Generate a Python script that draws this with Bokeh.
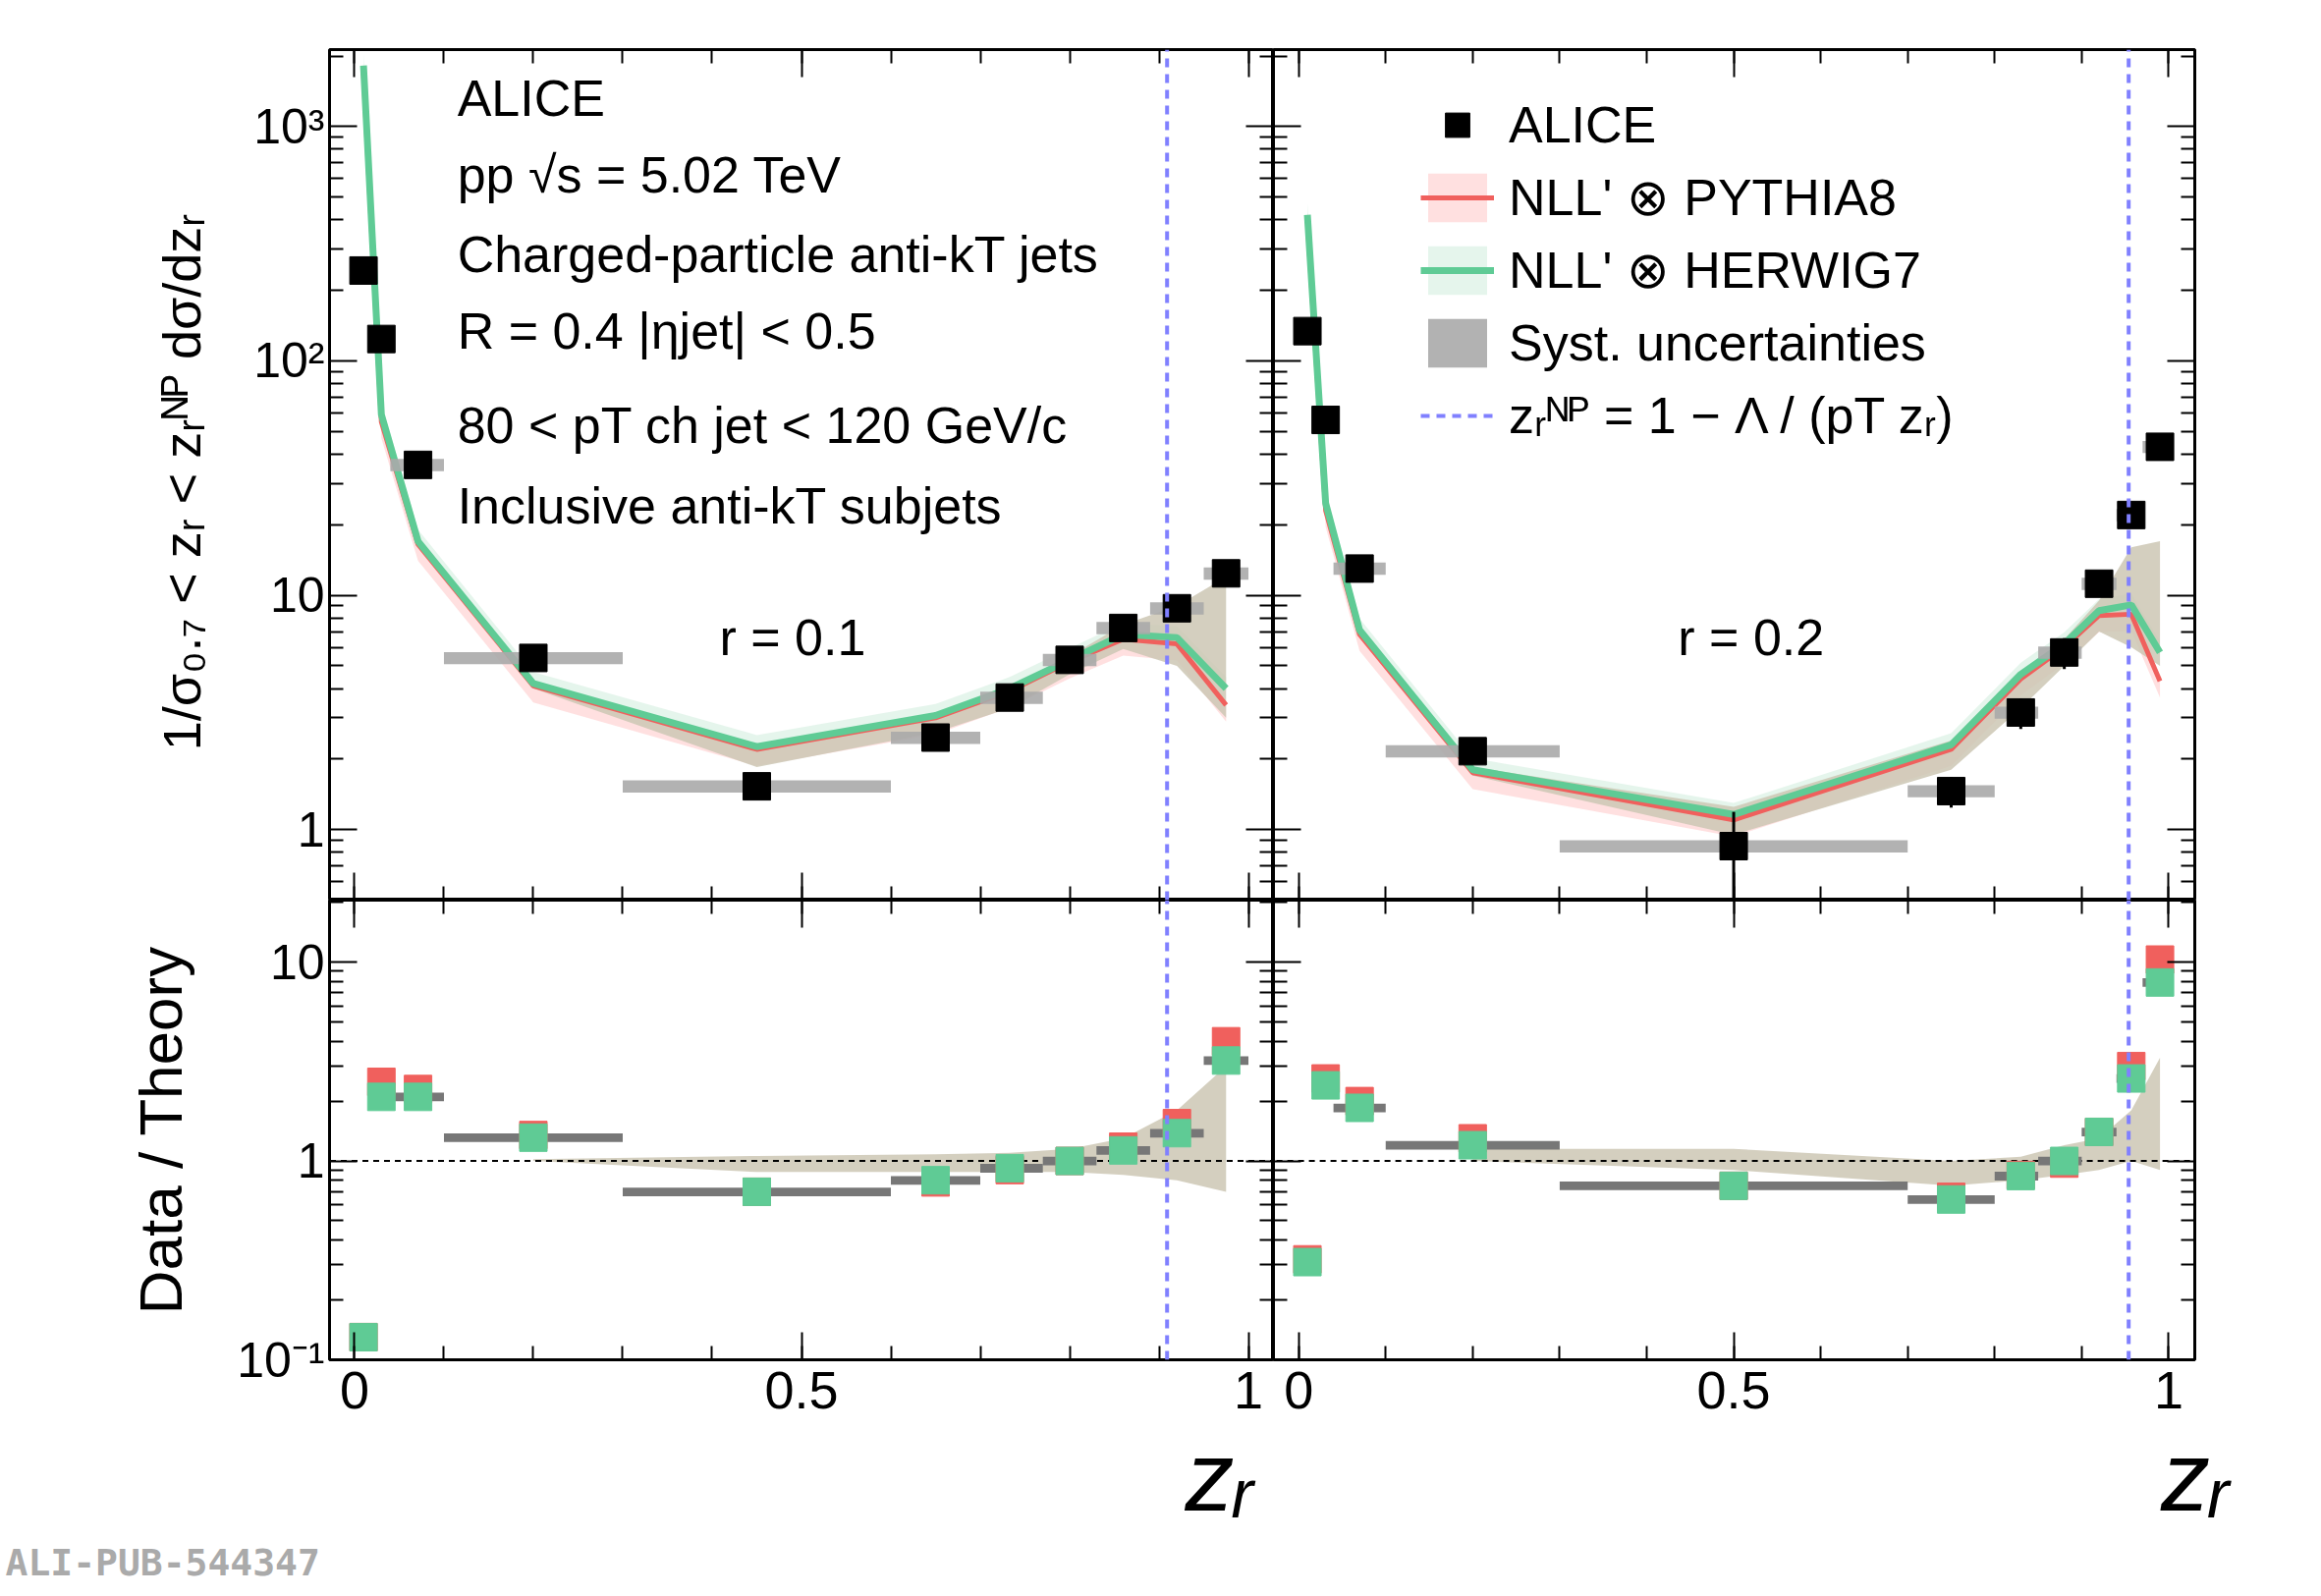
import numpy as np
from bokeh.plotting import figure
from bokeh.layouts import gridplot
from bokeh.models import (Range1d, FixedTicker, LinearAxis, LogAxis, Label, Legend,
                          LegendItem, Title)
from bokeh.embed import file_html
from bokeh.resources import INLINE

# ---- data, r = 0.1 (left) ----
l_x = [0.01, 0.03, 0.071, 0.2, 0.45, 0.65, 0.733, 0.8, 0.86, 0.92, 0.975]
l_lo = [0.0, 0.02, 0.04, 0.1, 0.3, 0.6, 0.7, 0.77, 0.83, 0.89, 0.95]
l_hi = [0.02, 0.04, 0.1, 0.3, 0.6, 0.7, 0.77, 0.83, 0.89, 0.95, 1.0]
l_data = [243, 124, 36, 5.4, 1.53, 2.47, 3.66, 5.3, 7.25, 8.8, 12.4]
l_herwig = [1820, 59, 17, 4.2, 2.26, 3.07, 4.0, 5.3, 6.8, 6.6, 4.0]
l_pythia = [1700, 55, 16.5, 4.1, 2.2, 3.0, 3.9, 5.2, 6.5, 6.2, 3.4]
l_band_lo = [1700, 55, 16, 4.0, 1.85, 2.6, 3.3, 4.6, 5.9, 5.0, 3.0]
l_band_hi = [1850, 60, 17.5, 4.3, 2.3, 3.1, 4.1, 5.5, 7.5, 9.0, 12]
l_rat_herwig = [0.13, 2.1, 2.1, 1.31, 0.70, 0.80, 0.92, 1.0, 1.13, 1.38, 3.2]
l_rat_pythia = [0.13, 2.5, 2.3, 1.35, 0.70, 0.78, 0.90, 1.0, 1.18, 1.55, 4.0]
l_rband_x = [0.2, 0.45, 0.65, 0.733, 0.8, 0.86, 0.92, 0.975]
l_rband_lo = [1.0, 0.88, 0.88, 0.88, 0.88, 0.85, 0.8, 0.7]
l_rband_hi = [1.02, 1.06, 1.08, 1.1, 1.15, 1.3, 1.8, 3.0]
l_znp = 0.909

# ---- data, r = 0.2 (right) ----
r_x = [0.01, 0.031, 0.07, 0.2, 0.5, 0.75, 0.83, 0.88, 0.92, 0.957, 0.99]
r_lo = [0.0, 0.02, 0.04, 0.1, 0.3, 0.7, 0.8, 0.85, 0.9, 0.94, 0.97]
r_hi = [0.02, 0.04, 0.1, 0.3, 0.7, 0.8, 0.85, 0.9, 0.94, 0.97, 1.0]
r_data = [134, 56, 13, 2.16, 0.85, 1.46, 3.16, 5.7, 11.2, 22, 43]
r_herwig = [420, 24.7, 7.1, 1.8, 1.16, 2.3, 4.6, 6.2, 8.6, 9.1, 5.7]
r_pythia = [400, 23, 6.8, 1.75, 1.1, 2.2, 4.4, 6.0, 8.2, 8.3, 4.3]
r_band_lo = [400, 23, 6.7, 1.7, 0.95, 1.8, 3.3, 5.0, 7.0, 6.0, 5.0]
r_band_hi = [430, 25, 7.3, 1.85, 1.25, 2.4, 4.7, 6.5, 9.5, 16, 17]
r_rat_herwig = [0.31, 2.4, 1.85, 1.2, 0.75, 0.64, 0.84, 1.0, 1.4, 2.6, 7.9]
r_rat_pythia = [0.32, 2.6, 2.0, 1.3, 0.75, 0.66, 0.85, 0.97, 1.4, 3.0, 10.3]
r_rband_x = [0.2, 0.5, 0.75, 0.83, 0.88, 0.92, 0.957, 0.99]
r_rband_lo = [1.0, 0.9, 0.75, 0.8, 0.85, 0.9, 1.0, 0.9]
r_rband_hi = [1.15, 1.15, 1.0, 1.05, 1.2, 1.3, 1.8, 3.3]
r_znp = 0.954

stat_rel = [0.05, 0.05, 0.05, 0.05, 0.06, 0.1, 0.1, 0.1, 0.1, 0.08, 0.06]
r_stat_rel = [0.05, 0.05, 0.05, 0.05, 0.4, 0.15, 0.15, 0.15, 0.1, 0.07, 0.06]

FONT = "Liberation Sans"
FS = "50px"
RED = "#f0605d"
GREEN = "#5fcb95"
TAN = "#cdc7b4"
BLUE = "#8080ff"
W_LEFT, W_RIGHT, H_TOP, H_BOT = 961, 938, 866, 468

top_ticks = [1, 10, 100, 1000]
top_minor = [m * 10.0 ** e for e in range(-1, 4) for m in range(2, 10)]
bot_ticks = [0.1, 1, 10]
bot_minor = [m * 10.0 ** e for e in range(-1, 2) for m in range(2, 10)]
x_ticks = [0, 0.5, 1]
x_minor = [i / 10 for i in range(11)]

TICKS = dict(major_tick_in=28, major_tick_out=0, minor_tick_in=14, minor_tick_out=0,
             axis_line_color=None, major_tick_line_width=2, minor_tick_line_width=2)


def hide_labels(ax):
    ax.major_label_text_font_size = "1px"
    ax.major_label_text_alpha = 0
    ax.major_label_standoff = 0


def style(p, yticks, yminor, labels, show_y, show_x):
    p.xgrid.visible = False
    p.ygrid.visible = False
    p.outline_line_color = "black"
    p.outline_line_width = 3
    xa, ya = p.xaxis[0], p.yaxis[0]
    xa.ticker = FixedTicker(ticks=x_ticks, minor_ticks=x_minor)
    ya.ticker = FixedTicker(ticks=yticks, minor_ticks=yminor)
    ya.major_label_overrides = labels
    for ax in (xa, ya):
        for k, v in TICKS.items():
            setattr(ax, k, v)
        ax.major_label_text_font = FONT
        ax.major_label_text_font_size = FS
        ax.major_label_text_color = "black"
        ax.axis_label_text_color = "black"
    if not show_y:
        hide_labels(ya)
    if not show_x:
        hide_labels(xa)
    extra_x = LinearAxis(ticker=FixedTicker(ticks=x_ticks, minor_ticks=x_minor), **TICKS)
    hide_labels(extra_x)
    p.add_layout(extra_x, "above")
    extra_y = LogAxis(ticker=FixedTicker(ticks=yticks, minor_ticks=yminor), **TICKS)
    hide_labels(extra_y)
    p.add_layout(extra_y, "right")
    return xa, ya


def top_panel(xr, x, lo, hi, data, statrel, herwig, pythia, blo, bhi, znp, left):
    p = figure(x_range=xr, y_range=Range1d(0.5, 2130), y_axis_type="log",
               frame_width=W_LEFT if left else W_RIGHT, frame_height=H_TOP,
               min_border_left=335 if left else 0, min_border_right=0 if left else 70,
               min_border_top=50, min_border_bottom=0,
               output_backend="svg", toolbar_location=None)
    xa, ya = style(p, top_ticks, top_minor,
                   {1: "1", 10: "10", 100: "10²", 1000: "10³"}, left, False)
    pyb = p.varea(x=x, y1=np.array(pythia) * 0.85, y2=np.array(pythia) * 1.02,
                  fill_color="#ffcccc", fill_alpha=0.6)
    hwb = p.varea(x=x, y1=np.array(herwig) * 0.98, y2=np.array(herwig) * 1.12,
                  fill_color="#d3eee0", fill_alpha=0.6)
    p.varea(x=x, y1=blo, y2=bhi, fill_color=TAN, fill_alpha=0.85)
    pyl = p.line(x, pythia, line_color=RED, line_width=5)
    hwl = p.line(x, herwig, line_color=GREEN, line_width=7)
    xs = np.array(x)
    d = np.array(data)
    syst = p.quad(left=lo, right=hi, bottom=d * 0.94, top=d * 1.06,
                  fill_color="#aaaaaa", fill_alpha=0.9, line_color=None)
    p.segment(x0=xs, x1=xs, y0=d * (1 - np.array(statrel)),
              y1=d * (1 + np.array(statrel)), line_color="black", line_width=3)
    pts = p.scatter(xs, d, marker="square", size=28, color="black")
    zl = p.line([znp, znp], [0.5, 2130], line_color=BLUE, line_width=4,
                line_dash="9 7")
    return p, ya, dict(pyb=pyb, pyl=pyl, hwb=hwb, hwl=hwl, syst=syst,
                       pts=pts, zl=zl)


def bot_panel(xr, x, lo, hi, rh, rp, bx, blo, bhi, znp, left):
    p = figure(x_range=xr, y_range=Range1d(0.1, 20.5), y_axis_type="log",
               frame_width=W_LEFT if left else W_RIGHT, frame_height=H_BOT,
               min_border_left=335 if left else 0, min_border_right=0 if left else 70,
               min_border_top=0, min_border_bottom=190,
               output_backend="svg", toolbar_location=None)
    xa, ya = style(p, bot_ticks, bot_minor, {0.1: "10⁻¹", 1: "1", 10: "10"},
                   left, True)
    xa.major_label_text_font_size = "54px"
    xa.major_label_standoff = 12
    xa.axis_label = "zᵣ" + "\u00a0" * 4 if left else "zᵣ"
    xa.axis_label_text_font = FONT
    xa.axis_label_text_font_size = "100px"
    xa.axis_label_text_font_style = "italic"
    xa.axis_label_align = "end"
    xa.axis_label_standoff = 10
    p.varea(x=bx, y1=blo, y2=bhi, fill_color=TAN, fill_alpha=0.85)
    p.line([-0.1, 1.1], [1, 1], line_color="black", line_width=2, line_dash="6 5")
    rh_ = np.array(rh)
    p.quad(left=lo, right=hi, bottom=rh_ * 0.95, top=rh_ * 1.05,
           fill_color="#777777", line_color=None)
    p.scatter(x, rp, marker="square", size=28, color=RED)
    p.scatter(x, rh, marker="square", size=28, color=GREEN)
    p.line([znp, znp], [0.1, 20.5], line_color=BLUE, line_width=4, line_dash="9 7")
    return p, ya


xr_l = Range1d(-0.028, 1.028)
xr_r = Range1d(-0.029, 1.03)

p1, ya1, g1 = top_panel(xr_l, l_x, l_lo, l_hi, l_data, stat_rel, l_herwig, l_pythia,
                        l_band_lo, l_band_hi, l_znp, True)
p2, ya2, g2 = top_panel(xr_r, r_x, r_lo, r_hi, r_data, r_stat_rel, r_herwig,
                        r_pythia, r_band_lo, r_band_hi, r_znp, False)
p3, ya3 = bot_panel(xr_l, l_x, l_lo, l_hi, l_rat_herwig, l_rat_pythia, l_rband_x,
                    l_rband_lo, l_rband_hi, l_znp, True)
p4, ya4 = bot_panel(xr_r, r_x, r_lo, r_hi, r_rat_herwig, r_rat_pythia, r_rband_x,
                    r_rband_lo, r_rband_hi, r_znp, False)

ya1.axis_label = "1/σ₀.₇ < zᵣ < zᵣᴺᴾ  dσ/dzᵣ"
ya3.axis_label = "Data / Theory"
for ax in (ya1, ya3):
    ax.axis_label_text_font = FONT
    ax.axis_label_text_font_style = "normal"
    ax.axis_label_text_font_size = "62px"
    ax.axis_label_standoff = 40
ya1.axis_label_text_font_size = "54px"

# text block
lines = ["ALICE", "pp   √s = 5.02 TeV", "Charged-particle anti-kT jets",
         "R = 0.4    |ηjet| < 0.5", "80 < pT ch jet < 120 GeV/c",
         "Inclusive anti-kT subjets"]
ys = [1320, 620, 286, 134, 53, 24]
for t, yv in zip(lines, ys):
    p1.add_layout(Label(x=0.115, y=yv, text=t, text_font=FONT, text_font_size="52px",
                        text_baseline="middle", text_color="black"))
p1.add_layout(Label(x=0.49, y=6.6, text="r = 0.1", text_font=FONT,
                    text_font_size="52px", text_baseline="middle", text_align="center",
                    text_color="black"))
p2.add_layout(Label(x=0.52, y=6.6, text="r = 0.2", text_font=FONT,
                    text_font_size="52px", text_baseline="middle", text_align="center",
                    text_color="black"))

p3.add_layout(Title(text="ALI-PUB-544347", align="left", offset=-330,
                    text_font="DejaVu Sans Mono", text_font_size="38px",
                    text_font_style="bold", text_color="#aaaaaa"), "below")

legend = Legend(items=[
    LegendItem(label="ALICE", renderers=[g2["pts"]]),
    LegendItem(label="NLL' ⊗ PYTHIA8", renderers=[g2["pyb"], g2["pyl"]]),
    LegendItem(label="NLL' ⊗ HERWIG7", renderers=[g2["hwb"], g2["hwl"]]),
    LegendItem(label="Syst. uncertainties", renderers=[g2["syst"]]),
    LegendItem(label="zᵣᴺᴾ = 1 − Λ / (pT zᵣ)", renderers=[g2["zl"]]),
], location="top_left")
legend.label_text_font = FONT
legend.label_text_font_size = "52px"
legend.label_text_color = "black"
legend.glyph_width = 75
legend.glyph_height = 62
legend.label_height = 62
legend.spacing = 12
legend.label_standoff = 15
legend.border_line_color = None
legend.background_fill_alpha = 0
legend.padding = 0
legend.margin = 0
p2.add_layout(legend)
legend.location = (150, 462)

grid = gridplot([[p1, p2], [p3, p4]], toolbar_location=None)
open("out.html", "w").write(file_html(grid, INLINE))
